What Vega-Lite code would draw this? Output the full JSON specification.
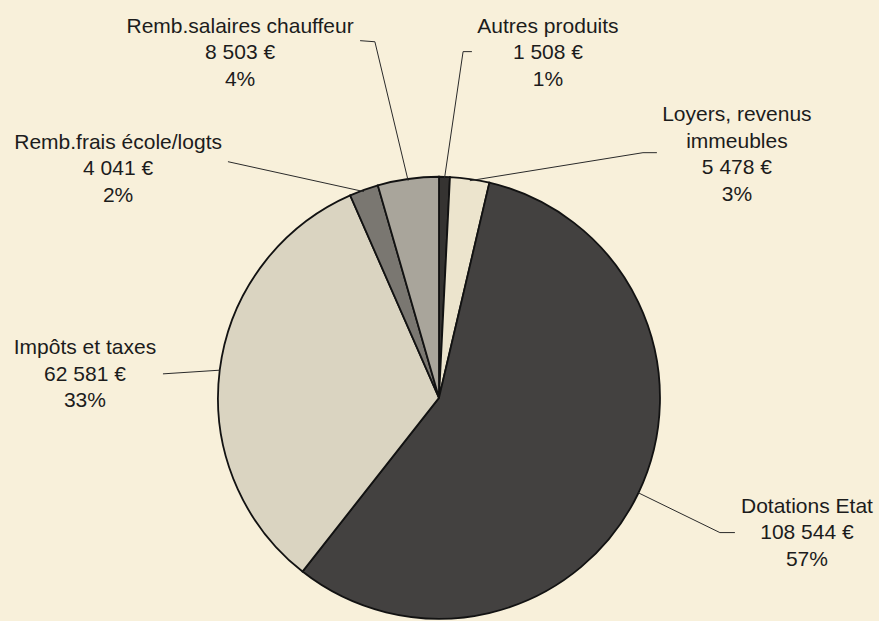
{
  "$schema": "https://vega.github.io/schema/vega-lite/v6.json",
  "width": 879,
  "height": 621,
  "autosize": {"type": "fit", "contains": "padding"},
  "padding": 0,
  "background": "#f8f0da",
  "config": {
    "view": {"stroke": null},
    "axis": {"disable": true},
    "locale": {"number": {"decimal": ",", "thousands": " ", "grouping": [3], "currency": ["", " €"]}},
    "text": {"font": "Liberation Sans", "fontSize": 21, "lineHeight": 26.5, "align": "center", "baseline": "alphabetic", "color": "#1c1c1c", "lineBreak": "\n"},
    "rule": {"stroke": "#2a2a2a", "strokeWidth": 1}
  },
  "data": {
    "values": [
      {"nom": "Autres produits", "valeur": 1508, "ordre": 1},
      {"nom": "Loyers, revenus\nimmeubles", "valeur": 5478, "ordre": 2},
      {"nom": "Dotations Etat", "valeur": 108544, "ordre": 3},
      {"nom": "Impôts et taxes", "valeur": 62581, "ordre": 4},
      {"nom": "Remb.frais école/logts", "valeur": 4041, "ordre": 5},
      {"nom": "Remb.salaires chauffeur", "valeur": 8503, "ordre": 6}
    ]
  },
  "transform": [
    {"joinaggregate": [{"op": "sum", "field": "valeur", "as": "total"}]},
    {"window": [{"op": "sum", "field": "valeur", "as": "cum"}], "sort": [{"field": "ordre", "order": "ascending"}], "frame": [null, 0]},
    {"calculate": "(datum.cum - datum.valeur / 2) / datum.total * 2 * PI", "as": "mid"},
    {"calculate": "sin(datum.mid)", "as": "ex"},
    {"calculate": "cos(datum.mid)", "as": "ey"},
    {"calculate": "datum.nom + '\\n' + format(datum.valeur, ',') + ' €' + '\\n' + format(datum.valeur / datum.total, '.0%')", "as": "etiquette"}
  ],
  "layer": [
    {
      "mark": {"type": "arc", "outerRadius": 221, "stroke": "#121212", "strokeWidth": 1.8},
      "encoding": {
        "x": {"datum": 0, "type": "quantitative", "scale": {"domain": [-1.9864, 1.991], "nice": false, "zero": false}, "axis": null},
        "y": {"datum": 0, "type": "quantitative", "scale": {"domain": [-0.9955, 1.8145], "nice": false, "zero": false}, "axis": null},
        "theta": {"field": "valeur", "type": "quantitative", "stack": true},
        "order": {"field": "ordre", "type": "quantitative"},
        "color": {
          "field": "nom", "type": "nominal", "legend": null,
          "scale": {
            "domain": ["Autres produits", "Loyers, revenus\nimmeubles", "Dotations Etat", "Impôts et taxes", "Remb.frais école/logts", "Remb.salaires chauffeur"],
            "range": ["#353331", "#ece4cd", "#434140", "#dad4c1", "#7a7771", "#a9a59b"]
          }
        }
      }
    },
    {
      "transform": [{"filter": "datum.ordre == 1"}],
      "layer": [
        {"mark": "rule", "encoding": {"x": {"field": "ex", "type": "quantitative"}, "y": {"field": "ey", "type": "quantitative"}, "x2": {"datum": 0.109}, "y2": {"datum": 1.579}}},
        {"mark": "rule", "encoding": {"x": {"datum": 0.109, "type": "quantitative"}, "y": {"datum": 1.579, "type": "quantitative"}, "x2": {"datum": 0.149}, "y2": {"datum": 1.579}}},
        {"mark": "text", "encoding": {"x": {"datum": 0.493, "type": "quantitative"}, "y": {"datum": 1.665, "type": "quantitative"}, "text": {"field": "etiquette"}}}
      ]
    },
    {
      "transform": [{"filter": "datum.ordre == 2"}],
      "layer": [
        {"mark": "rule", "encoding": {"x": {"field": "ex", "type": "quantitative"}, "y": {"field": "ey", "type": "quantitative"}, "x2": {"datum": 0.923}, "y2": {"datum": 1.118}}},
        {"mark": "rule", "encoding": {"x": {"datum": 0.923, "type": "quantitative"}, "y": {"datum": 1.118, "type": "quantitative"}, "x2": {"datum": 0.986}, "y2": {"datum": 1.118}}},
        {"mark": "text", "encoding": {"x": {"datum": 1.348, "type": "quantitative"}, "y": {"datum": 1.262, "type": "quantitative"}, "text": {"field": "etiquette"}}}
      ]
    },
    {
      "transform": [{"filter": "datum.ordre == 3"}],
      "layer": [
        {"mark": "rule", "encoding": {"x": {"field": "ex", "type": "quantitative"}, "y": {"field": "ey", "type": "quantitative"}, "x2": {"datum": 1.271}, "y2": {"datum": -0.615}}},
        {"mark": "rule", "encoding": {"x": {"datum": 1.271, "type": "quantitative"}, "y": {"datum": -0.615, "type": "quantitative"}, "x2": {"datum": 1.339}, "y2": {"datum": -0.615}}},
        {"mark": "text", "encoding": {"x": {"datum": 1.665, "type": "quantitative"}, "y": {"datum": -0.525, "type": "quantitative"}, "text": {"field": "etiquette"}}}
      ]
    },
    {
      "transform": [{"filter": "datum.ordre == 4"}],
      "layer": [
        {"mark": "rule", "encoding": {"x": {"field": "ex", "type": "quantitative"}, "y": {"field": "ey", "type": "quantitative"}, "x2": {"datum": -1.249}, "y2": {"datum": 0.109}}},
        {"mark": "text", "encoding": {"x": {"datum": -1.602, "type": "quantitative"}, "y": {"datum": 0.199, "type": "quantitative"}, "text": {"field": "etiquette"}}}
      ]
    },
    {
      "transform": [{"filter": "datum.ordre == 5"}],
      "layer": [
        {"mark": "rule", "encoding": {"x": {"field": "ex", "type": "quantitative"}, "y": {"field": "ey", "type": "quantitative"}, "x2": {"datum": -0.955}, "y2": {"datum": 1.077}}},
        {"mark": "text", "encoding": {"x": {"datum": -1.452, "type": "quantitative"}, "y": {"datum": 1.136, "type": "quantitative"}, "text": {"field": "etiquette"}}}
      ]
    },
    {
      "transform": [{"filter": "datum.ordre == 6"}],
      "layer": [
        {"mark": "rule", "encoding": {"x": {"field": "ex", "type": "quantitative"}, "y": {"field": "ey", "type": "quantitative"}, "x2": {"datum": -0.290}, "y2": {"datum": 1.624}}},
        {"mark": "rule", "encoding": {"x": {"datum": -0.290, "type": "quantitative"}, "y": {"datum": 1.624, "type": "quantitative"}, "x2": {"datum": -0.357}, "y2": {"datum": 1.629}}},
        {"mark": "text", "encoding": {"x": {"datum": -0.900, "type": "quantitative"}, "y": {"datum": 1.665, "type": "quantitative"}, "text": {"field": "etiquette"}}}
      ]
    }
  ]
}
